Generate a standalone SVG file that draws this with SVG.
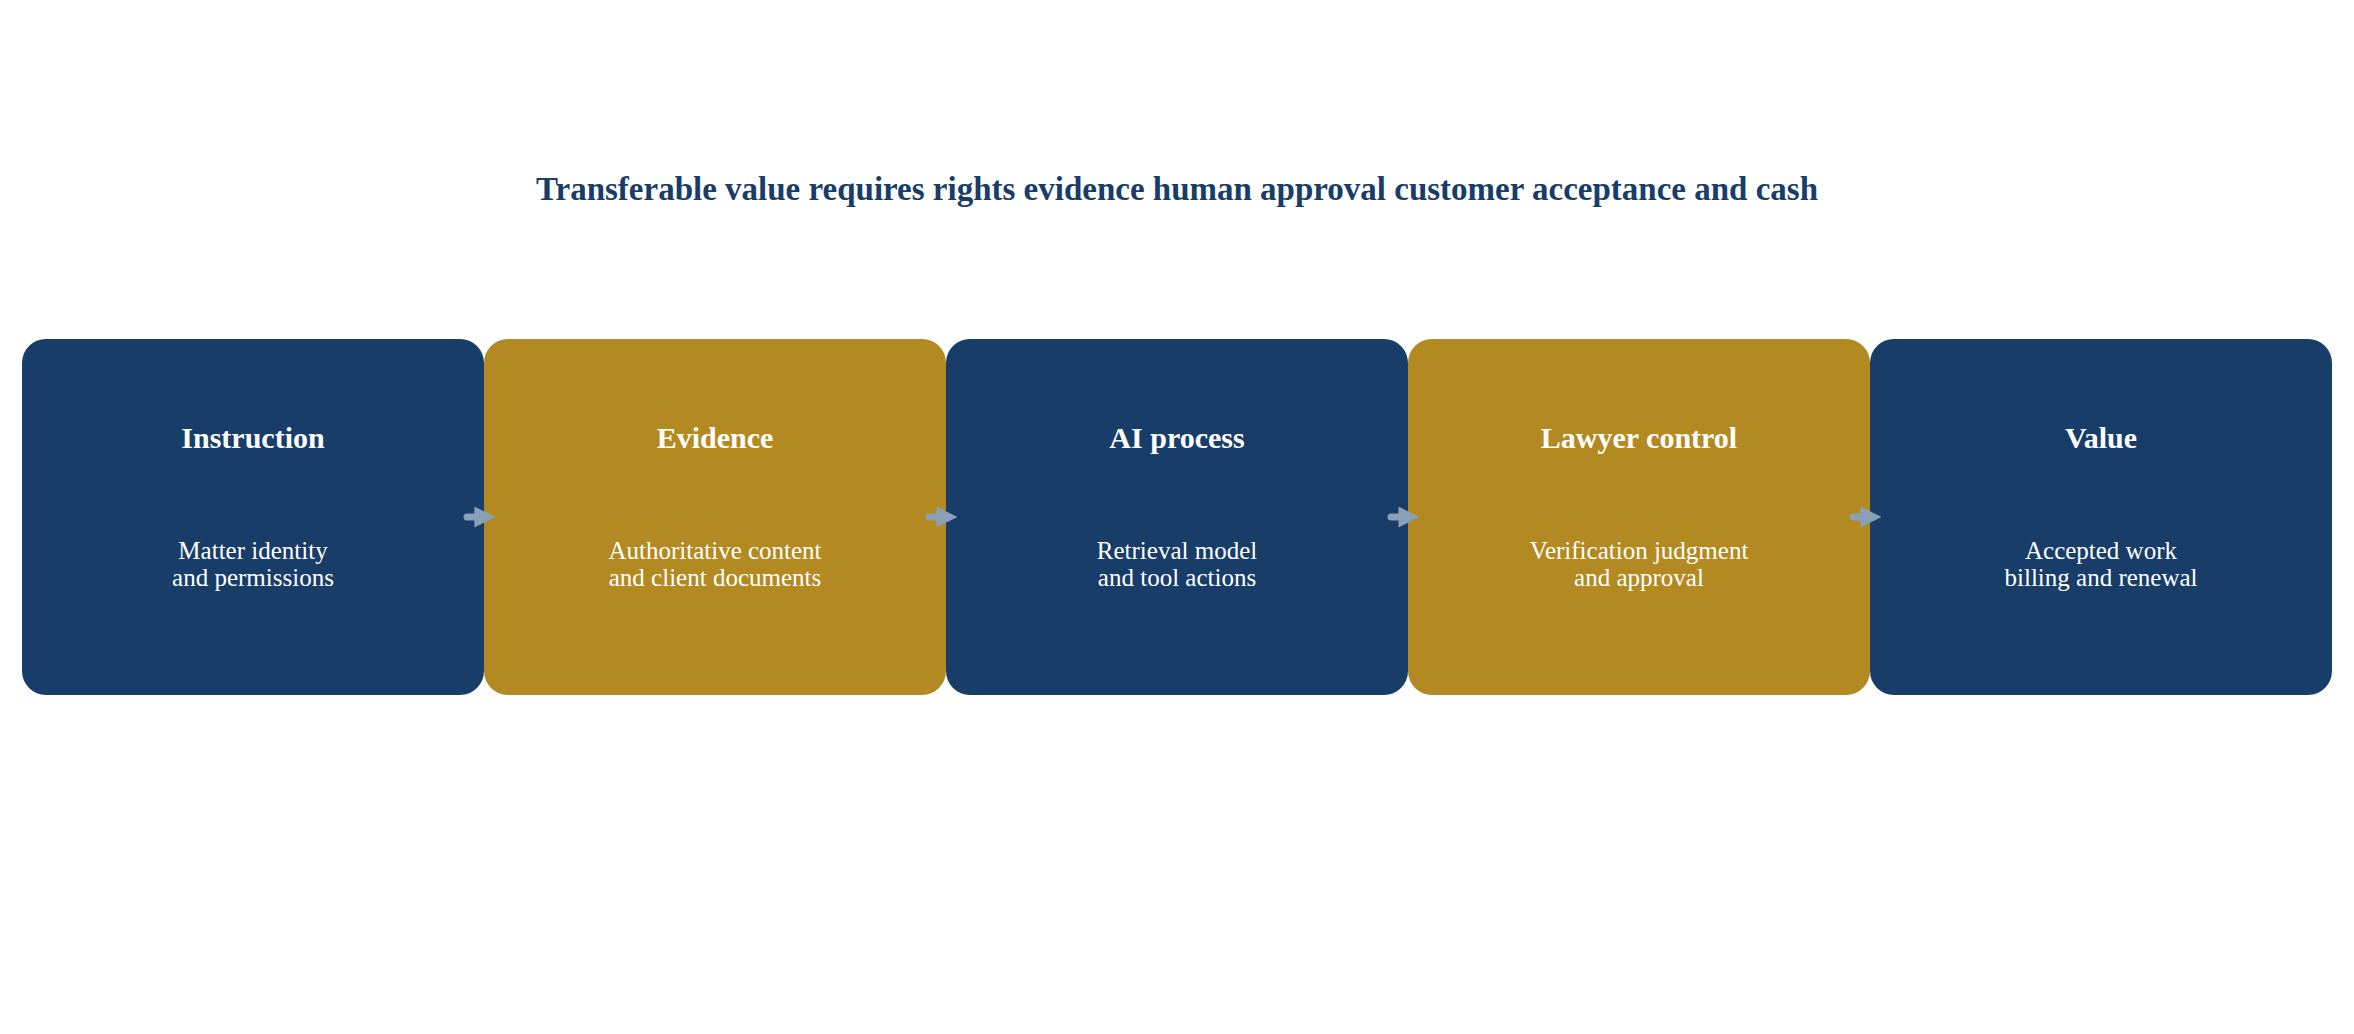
<svg xmlns="http://www.w3.org/2000/svg" width="2354" height="1034" viewBox="0 0 2354 1034">
<style>
.t{font-family:"Liberation Serif",serif;font-weight:bold;fill:#183d68;font-size:33px;text-anchor:middle}
.h{font-family:"Liberation Serif",serif;font-weight:bold;fill:#fff;font-size:30px;text-anchor:middle}
.b{font-family:"Liberation Serif",serif;fill:#fff;font-size:25px;text-anchor:middle}
.n{fill:#183d68}.g{fill:#b38a21}
.c{stroke:#8a9fb8;stroke-width:7;stroke-linecap:round;fill:none}
</style>
<defs><marker id="a" viewBox="0 0 10 10" refX="6" refY="5" markerWidth="3" markerHeight="3" orient="auto"><path d="M0,0 L10,5 L0,10 Z" fill="#8a9fb8"/></marker></defs>
<rect width="2354" height="1034" fill="#fff"/>
<text class="t" x="1177" y="200">Transferable value requires rights evidence human approval customer acceptance and cash</text>
<g id="n1"><rect class="n" x="22" y="339" width="462" height="356" rx="24"/><text class="h" x="253" y="448">Instruction</text><text class="b" x="253" y="559">Matter identity</text><text class="b" x="253" y="586">and permissions</text></g>
<g id="n2"><rect class="g" x="484" y="339" width="462" height="356" rx="24"/><text class="h" x="715" y="448">Evidence</text><text class="b" x="715" y="559">Authoritative content</text><text class="b" x="715" y="586">and client documents</text></g>
<g id="n3"><rect class="n" x="946" y="339" width="462" height="356" rx="24"/><text class="h" x="1177" y="448">AI process</text><text class="b" x="1177" y="559">Retrieval model</text><text class="b" x="1177" y="586">and tool actions</text></g>
<g id="n4"><rect class="g" x="1408" y="339" width="462" height="356" rx="24"/><text class="h" x="1639" y="448">Lawyer control</text><text class="b" x="1639" y="559">Verification judgment</text><text class="b" x="1639" y="586">and approval</text></g>
<g id="n5"><rect class="n" x="1870" y="339" width="462" height="356" rx="24"/><text class="h" x="2101" y="448">Value</text><text class="b" x="2101" y="559">Accepted work</text><text class="b" x="2101" y="586">billing and renewal</text></g>
<g id="connectors">
<line class="c" x1="467" y1="517" x2="487" y2="517" marker-end="url(#a)"/>
<line class="c" x1="929" y1="517" x2="949" y2="517" marker-end="url(#a)"/>
<line class="c" x1="1391" y1="517" x2="1411" y2="517" marker-end="url(#a)"/>
<line class="c" x1="1853" y1="517" x2="1873" y2="517" marker-end="url(#a)"/>
</g>
</svg>
